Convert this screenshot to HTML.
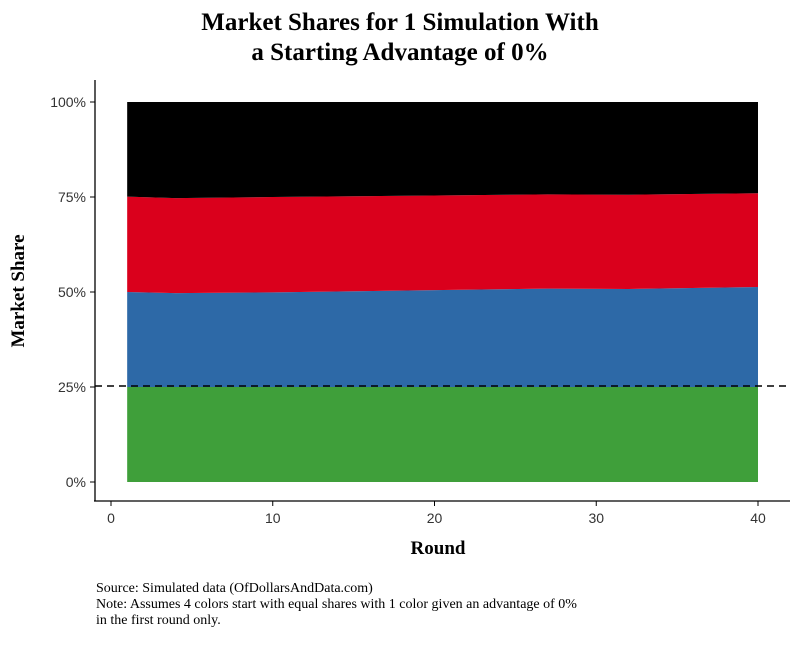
<!DOCTYPE html>
<html><head><meta charset="utf-8"><style>
body{margin:0;background:#fff;}
svg text{font-family:"Liberation Serif",serif;}
</style></head><body>
<svg width="800" height="640" viewBox="0 0 800 640" xmlns="http://www.w3.org/2000/svg">
<text x="400" y="30" text-anchor="middle" font-size="25" font-weight="bold">Market Shares for 1 Simulation With</text>
<text x="400" y="60" text-anchor="middle" font-size="25" font-weight="bold">a Starting Advantage of 0%</text>
<g id="areas"></g>
<line x1="95" y1="386" x2="790" y2="386" stroke="#000" stroke-width="1.6" stroke-dasharray="7,5"/>
<line x1="95" y1="80" x2="95" y2="501" stroke="#000" stroke-width="1.3"/>
<line x1="94" y1="501" x2="790" y2="501" stroke="#000" stroke-width="1.3"/>
<g id="yticks"></g>
<g id="xticks"></g>
<text x="438" y="554" text-anchor="middle" font-size="19" font-weight="bold">Round</text>
<text transform="translate(24,291) rotate(-90)" text-anchor="middle" font-size="19" font-weight="bold">Market Share</text>
<text x="96" y="592" font-size="14">Source: Simulated data (OfDollarsAndData.com)</text>
<text x="96" y="608" font-size="14">Note: Assumes 4 colors start with equal shares with 1 color given an advantage of 0%</text>
<text x="96" y="624" font-size="14">in the first round only.</text>
</svg>
<script>
const rounds=[1,4,10,20,27,32,40];
const greenShare=[25,25,25,25,25,25,25];
const blueShare=[25,24.7,24.9,25.5,25.9,25.8,26.3];
const redShare=[25.1,25.0,25.1,24.9,24.8,24.8,24.7];
const blackShare=[24.9,25.3,25.0,24.6,24.3,24.4,24.0];
const yTickVals=[0,25,50,75,100];
const yTickLabels=["0%","25%","50%","75%","100%"];
const xTickVals=[0,10,20,30,40];
const NS="http://www.w3.org/2000/svg";
const xs=v=>111+v*(758-111)/40;
const ys=v=>482-v*3.8;
const series=[[greenShare,"#3f9f3a","area-green"],[blueShare,"#2d69a7","area-blue"],[redShare,"#da001c","area-red"],[blackShare,"#000000","area-black"]];
const g=document.getElementById("areas");
let base=rounds.map(()=>0);
series.forEach(([vals,col,name])=>{
  const top=base.map((b,i)=>b+vals[i]);
  let d="";
  rounds.forEach((r,i)=>{d+=(i?"L":"M")+xs(r)+","+ys(top[i]);});
  for(let i=rounds.length-1;i>=0;i--)d+="L"+xs(rounds[i])+","+ys(base[i]);
  const p=document.createElementNS(NS,"path");
  p.setAttribute("d",d+"Z");p.setAttribute("fill",col);
  
  
  g.appendChild(p);base=top;
});
const yt=document.getElementById("yticks");
yTickVals.forEach((v,i)=>{
  const l=document.createElementNS(NS,"line");
  l.setAttribute("x1",90);l.setAttribute("x2",95);l.setAttribute("y1",ys(v));l.setAttribute("y2",ys(v));l.setAttribute("stroke","#000");
  
  
  yt.appendChild(l);
  const t=document.createElementNS(NS,"text");
  t.setAttribute("x",86);t.setAttribute("y",ys(v)+5);t.setAttribute("text-anchor","end");t.setAttribute("font-size","14");t.setAttribute("fill","#333");
  t.setAttribute("style","font-family:'Liberation Sans',sans-serif");
  t.textContent=yTickLabels[i];
  
  
  yt.appendChild(t);
});
const xt=document.getElementById("xticks");
xTickVals.forEach(v=>{
  const l=document.createElementNS(NS,"line");
  l.setAttribute("x1",xs(v));l.setAttribute("x2",xs(v));l.setAttribute("y1",501);l.setAttribute("y2",506);l.setAttribute("stroke","#000");
  
  
  xt.appendChild(l);
  const t=document.createElementNS(NS,"text");
  t.setAttribute("x",xs(v));t.setAttribute("y",523);t.setAttribute("text-anchor","middle");t.setAttribute("font-size","14");t.setAttribute("fill","#333");
  t.setAttribute("style","font-family:'Liberation Sans',sans-serif");
  t.textContent=v;
  
  
  xt.appendChild(t);
});
</script>
</body></html>
